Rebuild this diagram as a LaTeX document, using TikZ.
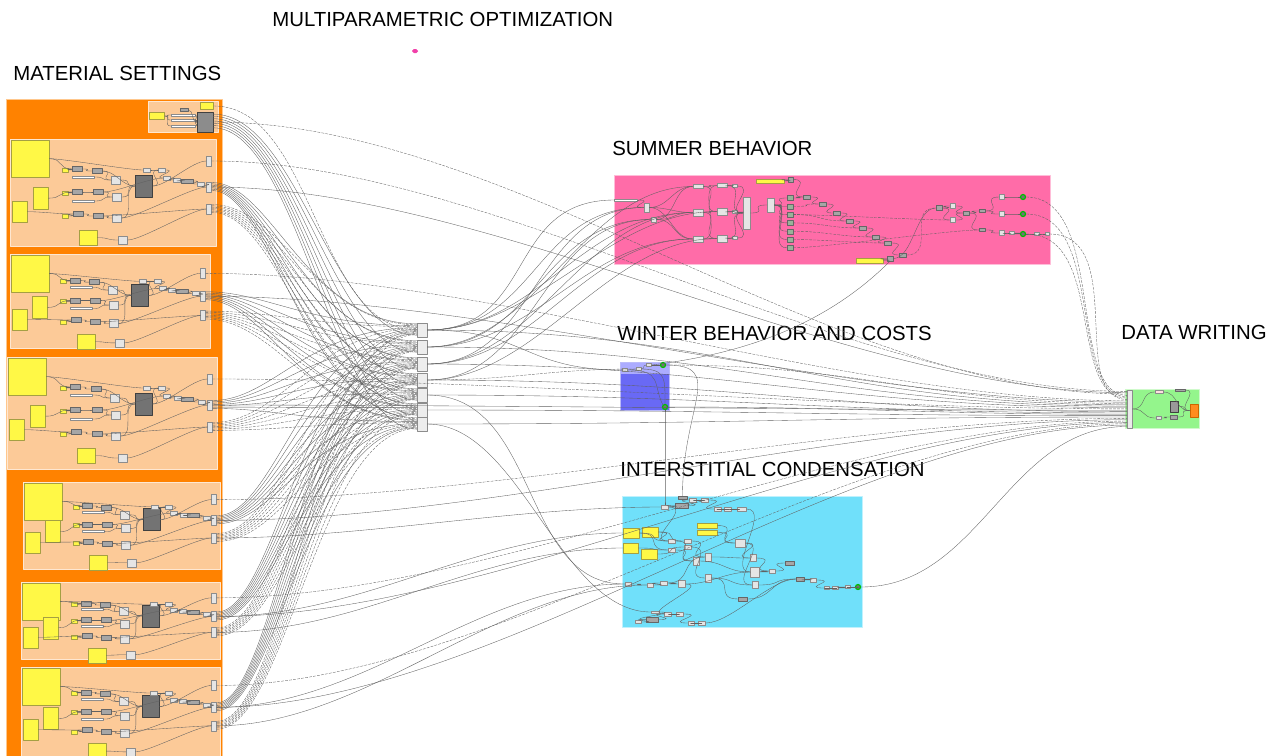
\documentclass[tikz,border=0pt]{standalone}
\usepackage{fontspec}
\newfontfamily\headfont{Liberation Sans}
\usetikzlibrary{calc}

\definecolor{grporange}{RGB}{255,130,0}
\definecolor{grppeach}{RGB}{252,202,152}
\definecolor{grppink}{RGB}{255,108,168}
\definecolor{grpblue}{RGB}{105,105,245}
\definecolor{grpbluetop}{RGB}{172,172,255}
\definecolor{grpcyan}{RGB}{112,224,250}
\definecolor{grpgreen}{RGB}{148,245,140}
\definecolor{notey}{RGB}{255,248,70}
\definecolor{outorange}{RGB}{255,140,30}

\tikzset{
  heading/.style={font=\headfont\fontsize{11.6pt}{13.9pt}\selectfont, anchor=west, inner sep=0pt},
  sz/.style 2 args={minimum width=#1*0.02cm, minimum height=#2*0.02cm},
  grp/.style={draw=white!55!#1, line width=.4pt, fill=#1, inner sep=0pt, anchor=north west},
  comp/.style={draw=black!45, fill=black!10, line width=.2pt, inner sep=0pt},
  mcomp/.style={comp, fill=black!35, draw=black!60},
  dcomp/.style={comp, fill=black!55, draw=black!75},
  wbar/.style={comp, fill=white},
  note/.style={draw=black!40!yellow, fill=notey, line width=.2pt, inner sep=0pt},
  okdot/.style={circle, draw=green!75!black, line width=.7pt, fill=black!55, inner sep=0pt, minimum size=0.1cm},
  wire/.style={draw=black!62, line width=.2pt},
  dwire/.style={wire, dash pattern=on 1.5pt off .8pt},
  % one material group of components
  matgrp/.pic={
    \node[note, sz={38}{37}, anchor=north west] (-n1) at (1,1) {};
    \node[note, sz={15}{22}, anchor=north west] (-n2) at (23,48) {};
    \node[note, sz={15}{21}, anchor=north west] (-n3) at (2,62) {};
    \node[note, sz={18}{15}, anchor=north west] (-n4) at (69,91) {};
    \foreach \k/\yy in {1/31, 2/54, 3/77}
      \node[note, sz={6}{4}] (-q\k) at (55,\yy) {};
    \foreach \k/\xx/\yy in {1/67/30, 2/87/32, 3/67/53, 4/88/53, 5/68/75, 6/88/77}
      \node[mcomp, sz={10}{5}] (-a\k) at (\xx,\yy) {};
    \foreach \k/\xx/\yy in {1/106/41, 2/107/58, 3/107/79, 4/113/101}
      \node[comp, sz={9}{8}] (-b\k) at (\xx,\yy) {};
    \node[dcomp, sz={17}{22}] (-big) at (134,47) {};
    \node[wbar, sz={22}{2}] (-l1) at (73,38) {};
    \node[wbar, sz={22}{2}] (-l2) at (73,62) {};
    \foreach \k/\xx/\yy in {1/137/31, 2/152/31, 3/157/39, 4/167/41, 6/191/45}
      \node[comp, sz={7}{4}] (-r\k) at (\xx,\yy) {};
    \node[mcomp, sz={12}{4}] (-r5) at (177,42) {};
    \foreach \k/\yy in {1/22, 2/48, 3/70}
      \node[comp, sz={5}{10}] (-o\k) at (199,\yy) {};
    \foreach \p/\q in {-n1/-a1, -n1/-r1, -n2/-a3, -n3/-a5, -q1/-a1, -q2/-a3, -q3/-a5,
        -a1/-a2, -a3/-a4, -a5/-a6, -l1/-b1, -l2/-b2, -a2/-b1, -a4/-b2, -a6/-b3,
        -b1/-big, -b2/-big, -b3/-big, -a2/-big, -n4/-b4, -big/-r2, -r1/-r2, -r2/-r3,
        -r3/-r4, -r4/-r5, -r5/-r6, -r6/-o2, -big/-o1, -b4/-o3, -a4/-r3, -a6/-o3, -b3/-o2}
      \draw[wire] (\p.east) .. controls +(14,0) and +(-14,0) .. (\q.west);
  }
}

\begin{document}
\begin{tikzpicture}[x=0.02cm, y=-0.02cm, line cap=round, line join=round]
\useasboundingbox (0,0) rectangle (1276,755);

% groups
\node[grp=grporange, sz={216}{660}] (gmat) at (6,99) {};
\foreach \n/\xx/\yy/\w/\h in {1/10/139/206/107, 2/10/254/200/94, 3/7/357/210/112,
    4/23/482/197/87, 5/21/582/199/77, 6/21/667/199/92}
  \node[grp=grppeach, sz={\w}{\h}] (p\n) at (\xx,\yy) {};
\node[grp=grppeach, sz={70}{31}] (ptop) at (148,101) {};
\node[grp=grppink, sz={436}{89}] (gsum) at (614,175) {};
\node[grp=grpblue, sz={49}{48}] (gwin) at (620,362) {};
\node[fill=grpbluetop, inner sep=0pt, anchor=north west, sz={48}{11}] (gwintop) at (620.5,362.5) {};
\node[grp=grpcyan, sz={240}{131}] (gcon) at (622,496) {};
\node[grp=grpgreen, sz={74}{39}] (gdat) at (1125,389) {};

% headings
\node[heading] (tmulti) at (272,19) {MULTIPARAMETRIC OPTIMIZATION};
\node[heading] (tmat) at (13,73) {MATERIAL SETTINGS};
\node[heading] (tsum) at (612,148) {SUMMER BEHAVIOR};
\node[heading] (twin) at (617,333) {WINTER BEHAVIOR AND COSTS};
\node[heading] (tdat) at (1121,332) {DATA WRITING};
\node[heading] (tcon) at (620,469) {INTERSTITIAL CONDENSATION};
\node[fill=magenta!75, rounded corners=1pt, inner sep=0pt, sz={6}{4}] (mpo) at (415,51) {};

% material settings
\pic (g1) at (10,139) {matgrp};
\pic[xscale=.97, yscale=.88] (g2) at (10,254) {matgrp};
\pic[xscale=1.02] (g3) at (7,357) {matgrp};
\pic[xscale=.96, yscale=.8] (g4) at (23,482) {matgrp};
\pic[xscale=.97, yscale=.72] (g5) at (21,582) {matgrp};
\pic[xscale=.97, yscale=.84] (g6) at (21,667) {matgrp};
\node[note, sz={15}{7}] (tn1) at (157,116) {};
\node[note, sz={13}{7}] (tn2) at (207,106) {};
\node[dcomp, fill=black!45, sz={16}{20}] (td) at (205,122) {};
\node[mcomp, sz={8}{3}] (tm) at (184,110) {};
\foreach \k/\yy in {1/115, 2/120, 3/126}
  \node[wbar, sz={24}{2}] (tl\k) at (183,\yy) {};
\foreach \k in {1,2,3} {
  \draw[wire] (tn1.east) .. controls +(8,0) and +(-8,0) .. (tl\k.west);
  \draw[wire] (tl\k.east) .. controls +(5,0) and +(-5,0) .. (td.west);
}
\draw[wire] (tm.east) .. controls +(6,0) and +(-6,0) .. (td.west);

% hub
\foreach \k/\yy in {1/330, 2/347, 3/364, 4/380, 5/395, 6/410, 7/424}
  \node[comp, fill=black!7, sz={10}{14}] (h\k) at (422,\yy) {};

% summer behavior
\node[wbar, sz={23}{2}] (s0) at (626,200) {};
\foreach \n/\xx/\yy/\w/\h in {s1/646.5/207.5/5/9, s2/653.5/219.5/5/5, s3/698/186.5/10/4,
    s4/722/185.5/10/4, s5/734.5/186/5/3, s6/698/212.5/10/7, s7/722/211.5/10/7,
    s8/734.5/212/5/3, s9/698/239/10/6, s10/722/238.5/10/7, s11/734.5/238/5/3,
    sbig/746.5/213/7/32, s12/770.5/205/7/14, sr2/953/206/5/5, sr3/953/220/5/5,
    sr6/1002/197/5/5, sr7/1002/214/5/5, sr9/1002/233/5/5, sr10/1012/233/5/3,
    sr11/1037/234/5/3, sr12/1047/234/4/3}
  \node[comp, sz={\w}{\h}] (\n) at (\xx,\yy) {};
\foreach \n/\xx/\yy/\w/\h in {sc1/807/197/7/4, sc2/823/204/7/4, sc3/837/213/7/4,
    sc4/850/221/7/4, sc5/863/228/7/4, sc6/876/237/7/4, sc7/888/243/7/4, sc8/903/255/7/4,
    sg1/790.5/179.5/5/5, sg2/890/258.5/6/5, sr1/939/208/6/5, sr4/966/213/6/4,
    sr5/982/211/6/3, sr8/982/230/6/3}
  \node[mcomp, sz={\w}{\h}] (\n) at (\xx,\yy) {};
\foreach \k in {1,...,7}
  \node[mcomp, fill=green!25!black!40, sz={6}{5}] (sb\k) at (790,{198+(\k-1)*8.3}) {};
\node[note, sz={28}{4}] (sy1) at (770,181) {};
\node[note, sz={27}{5}] (sy2) at (869.5,260.5) {};
\foreach \k/\yy in {1/197, 2/214, 3/234}
  \node[okdot] (so\k) at (1023,\yy) {};
\foreach \p/\q in {s0/s1, s1/s3, s1/s6, s1/s9, s2/s3, s2/s6, s2/s9, s3/s4, s4/s5, s6/s7,
    s7/s8, s9/s10, s10/s11, s3/s7, s6/s10, s9/s4, s5/sbig, s8/sbig, s11/sbig, s4/sbig,
    s7/sbig, s10/sbig, sbig/s12, s12/sb1, s12/sb2, s12/sb3, s12/sb4, s12/sb5, s12/sb6,
    s12/sb7, sy1/sg1, sg1/sc1, sb1/sc1, sc1/sc2, sc2/sc3, sc3/sc4, sc4/sc5, sc5/sc6,
    sc6/sc7, sc7/sc8, sy2/sg2, sg2/sr1, sr1/sr2, sr1/sr3, sr2/sr4, sr3/sr4, sr4/sr5,
    sr5/sr6, sr5/sr7, sr4/sr8, sr8/sr9, sr9/sr10, sr6/so1, sr7/so2, sr10/so3, so3/sr11,
    sr11/sr12}
  \draw[wire] (\p.east) .. controls +(20,0) and +(-20,0) .. (\q.west);
\foreach \p/\q in {sb2/sc2, sb3/sc4, sb4/sc5, sb5/sc6, sb6/sc7, sb3/sr3, sb7/sr8, sc8/sr1}
  \draw[dwire] (\p.east) .. controls +(30,0) and +(-30,0) .. (\q.west);

% winter behavior and costs
\foreach \n/\xx/\yy in {w1/625/370, w2/638.5/369, w3/649/365}
  \node[comp, sz={5}{3}] (\n) at (\xx,\yy) {};
\node[okdot] (wo1) at (663,365) {};
\node[okdot] (wo2) at (665,407) {};
\draw[wire] (w1.east) -- (w2.west);
\draw[wire] (w2.east) .. controls +(5,0) and +(-5,0) .. (w3.west);
\draw[wire] (w3.east) -- (wo1.west);
\draw[wire] (w2.east) .. controls +(25,0) and +(0,-25) .. (wo2.north);
\draw[wire] (w1.east) .. controls +(35,0) and +(-10,-20) .. (wo2.north west);

% interstitial condensation
\foreach \n/\xx/\yy/\w/\h in {ky1/631/533/16/10, ky2/650/532/16/10, ky3/630.5/548/15/10,
    ky4/649/554/16/10, ky5/707/525.5/20/5, ky6/707/532.5/20/5}
  \node[note, sz={\w}{\h}] (\n) at (\xx,\yy) {};
\foreach \n/\xx/\yy/\w/\h in {kd1/681.5/505.5/13/5, kd2/682.5/497.5/9/3, kd3/652/619.5/12/5,
    kd4/743/599/9/4, kd5/790/563/9/4, k19/800/579/8/4}
  \node[mcomp, sz={\w}{\h}] (\n) at (\xx,\yy) {};
\foreach \n/\xx/\yy/\w/\h in {k1/665/507/7/4, k2/693/500/7/4, k3/705/500/7/4, k4/718/509/7/4,
    k5/728/509/7/4, k6/742/509/9/4, k7/672/541/7/4, k8/688/541/7/4, k9/672/550/7/4,
    k10/688/547/7/4, k11/740/543/10/8, k12/696/561/6/8, k13/708/557/6/8, k14/708/578/6/8,
    k15/753/558/6/7, k16/755/572/9/10, k17/755/585/6/7, k18/772/571/6/4, k20/813/580/6/4,
    k21/827/588/5/3, k22/835/588/6/3, k23/848/587/5/3, k24/628/584/6/4, k25/650/585/6/4,
    k26/664/583/7/4, k27/682/584/7/7, k28/668/614/7/4, k29/680/614/7/4, k30/691/623/6/4,
    k31/702/623/7/4, k32/638/622/6/3, k33/655/612/8/2}
  \node[comp, sz={\w}{\h}] (\n) at (\xx,\yy) {};
\node[okdot] (ko) at (858,587) {};
\foreach \p/\q in {ky1/k7, ky2/k7, ky2/k8, ky3/k9, ky4/k10, ky1/k9, ky5/k11, ky6/k11,
    k7/k12, k8/k13, k9/k12, k10/k14, k12/k16, k13/k15, k14/k17, k11/k15, k15/k18,
    k16/k18, k17/k19, k18/kd5, k19/k20, k20/k21, k21/k22, k22/k23, k23/ko, k1/kd1,
    kd1/k2, k2/k3, k3/k4, k4/k5, k5/k6, k6/k16, k24/k25, k25/k26, k26/k27, k27/k28,
    k28/k29, k29/k30, k30/k31, kd3/k28, k32/kd3, k27/k16, k26/k13, k1/k7, k11/k17,
    k31/k19, k33/kd3, kd4/k19, k14/kd4}
  \draw[wire] (\p.east) .. controls +(25,0) and +(-25,0) .. (\q.west);

% data writing
\node[wbar, fill=black!8, sz={5}{38}] (dwin) at (1129.5,409) {};
\node[comp, fill=red!12, sz={8}{3}] (dw1) at (1159,392) {};
\node[comp, sz={5}{3}] (dw2) at (1158.5,418) {};
\node[mcomp, sz={7}{4}] (dw3) at (1173.5,417) {};
\node[dcomp, fill=black!40, sz={8}{11}] (dwd) at (1174,406.5) {};
\node[mcomp, sz={10}{2}] (dwb) at (1180,390) {};
\node[comp, fill=outorange, draw=orange!80!black, sz={8}{13}] (dwo) at (1194,410.5) {};
\foreach \p/\q in {dwin/dw1, dwin/dw2, dw1/dwo, dw2/dw3, dw3/dwo, dwd/dwo, dwb/dwo}
  \draw[wire] (\p.east) .. controls +(15,0) and +(-15,0) .. (\q.west);
\foreach \i in {1,...,27}
  \coordinate (d\i) at (1127,{390+\i*1.35});

% material settings to hub
\foreach \g [count=\gi] in {g1,g2,g3,g4,g5,g6}
  \foreach \k in {1,...,7} {
    \draw[wire] ([yshift={-(\k-.5)*0.75pt}]\g-o2.north east) .. controls +(60,0) and +(-110,0) .. ([yshift={-(\gi*2-1)*0.55pt}]h\k.north west);
    \draw[dwire] ([yshift={-(\k-.5)*0.75pt}]\g-o3.north east) .. controls +(70,0) and +(-100,0) .. ([yshift={-\gi*1.1pt}]h\k.north west);
  }
\foreach \k in {1,...,7}
  \draw[wire] ([yshift={-\k*1.3pt}]td.north east) .. controls +(85,0) and +(-85,0) .. ([yshift=-7pt]h\k.north west);
\draw[dwire] (tn2.east) .. controls +(100,0) and +(-100,0) .. (h1.west);

% material settings to data writing and condensation
\foreach \g/\i/\j in {g1/1/2, g2/8/9, g3/14/15, g4/21/22, g5/23/24, g6/25/26} {
  \draw[dwire] (\g-o1.east) .. controls +(280,0) and +(-280,0) .. (d\i);
  \draw[wire] (\g-o2.east) .. controls +(280,0) and +(-280,0) .. (d\j);
}
\draw[dwire] (td.east) .. controls +(300,0) and +(-300,0) .. (d3);
\foreach \p/\q in {g5-o2/ky1, g5-o3/ky3, g6-o2/k24, g6-o3/k25, g4-o3/k1}
  \draw[wire] (\p.east) .. controls +(150,0) and +(-150,0) .. (\q.west);

% hub to summer, winter, condensation, data writing
\foreach \k/\q in {1/s0, 1/s1, 1/s6, 2/s2, 2/s9, 2/s3, 3/s1, 3/s6, 3/s9, 4/s2, 4/s10, 1/s7}
  \draw[wire] (h\k.east) .. controls +(110,0) and +(-110,0) .. (\q.west);
\draw[wire] (h1.east) .. controls +(100,0) and +(-100,0) .. (w1.west);
\draw[dwire] (h4.east) .. controls +(90,0) and +(-90,0) .. (w2.west);
\foreach \k/\i in {1/11, 2/12, 3/13, 4/16, 5/17, 6/19, 7/20}
  \draw[wire] (h\k.east) .. controls +(300,0) and +(-300,0) .. (d\i);
\draw[wire] (h5.east) .. controls (540,395) and (520,585) .. (k24.west);
\draw[wire] (h7.east) .. controls (520,424) and (560,612) .. (k33.west);

% groups to data writing
\foreach \p/\i in {so1/4, so2/5, so3/6, sr12/7}
  \draw[dwire] (\p.east) .. controls +(80,0) and +(-60,0) .. (d\i);
\draw[dwire] (wo1.east) .. controls +(200,0) and +(-200,0) .. (d10);
\draw[wire] (wo2.east) .. controls +(200,0) and +(-200,0) .. (d18);
\draw[wire] (ko.east) .. controls +(120,0) and +(-120,0) .. (d27);
\draw[wire] (sg2.south) .. controls +(-70,70) and +(80,-10) .. (w3.east);
\draw[wire] (wo1.east) .. controls +(60,0) and +(0,-90) .. (kd2.north);
\draw[wire] (wo2.south) .. controls +(0,40) and +(0,-50) .. (k1.north);
\end{tikzpicture}
\end{document}
